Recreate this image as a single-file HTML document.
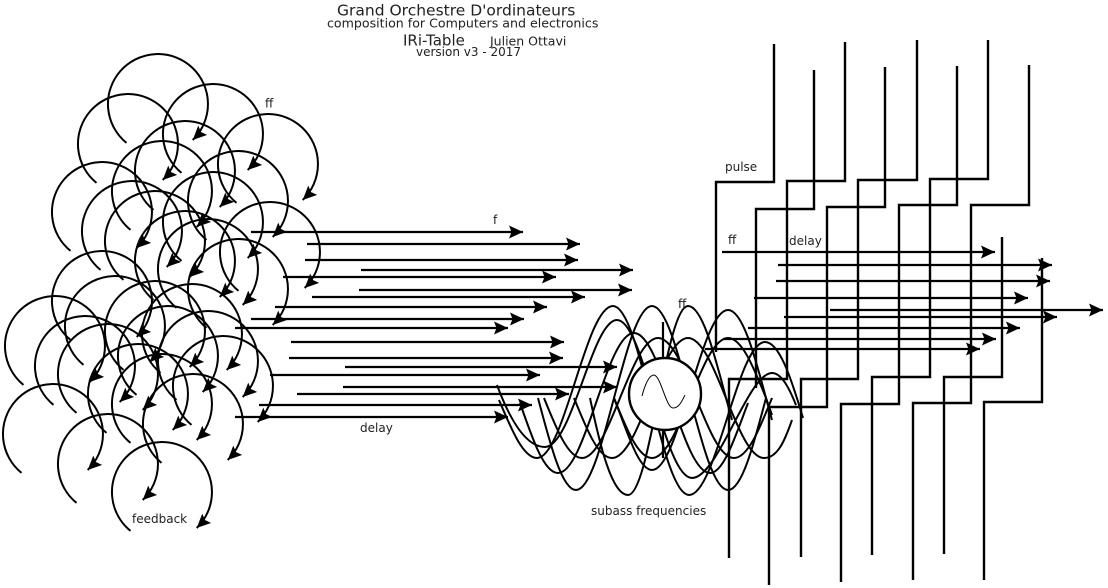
<!DOCTYPE html>
<html><head><meta charset="utf-8"><style>
html,body{margin:0;padding:0;background:#fff;}
svg{display:block;}
.a{fill:none;stroke:#000;stroke-width:2;marker-end:url(#ah);}
.h{stroke:#000;stroke-width:2.2;marker-end:url(#ah);}
.s{fill:none;stroke:#000;stroke-width:2.4;}
.w{fill:none;stroke:#000;stroke-width:2;}
text{font-family:"DejaVu Sans","Liberation Sans",sans-serif;fill:#222;}
</style></head><body>
<svg width="1108" height="588" viewBox="0 0 1108 588" xmlns="http://www.w3.org/2000/svg">
<defs>
<marker id="ah" markerUnits="userSpaceOnUse" markerWidth="16" markerHeight="14" refX="14" refY="6.5" orient="auto">
<path d="M0,0 L14,6.5 L0,13 L2.5,6.5 z" fill="#000"/>
</marker>
</defs>
<rect width="1108" height="588" fill="#fff"/>

<!-- title -->
<text x="337" y="15.5" font-size="15.5">Grand Orchestre D'ordinateurs</text>
<text x="327" y="27.5" font-size="12.6">composition for Computers and electronics</text>
<text x="403" y="45.5" font-size="15">IRi-Table</text>
<text x="490" y="45.5" font-size="12.5">Julien Ottavi</text>
<text x="416" y="56" font-size="12">version v3 - 2017</text>

<!-- feedback arcs -->
<path class="a" d="M126.5,142.9 A50,50 0 1 1 192.7,140"/>
<path class="a" d="M96.5,182.9 A50,50 0 1 1 162.7,180"/>
<path class="a" d="M181.5,172.9 A50,50 0 1 1 247.7,170"/>
<path class="a" d="M236.5,202.9 A50,50 0 1 1 302.7,200"/>
<path class="a" d="M153.5,209.9 A50,50 0 1 1 219.7,207"/>
<path class="a" d="M130.5,229.9 A50,50 0 1 1 196.7,227"/>
<path class="a" d="M70.5,250.9 A50,50 0 1 1 136.7,248"/>
<path class="a" d="M206.5,239.9 A50,50 0 1 1 272.7,237"/>
<path class="a" d="M100.5,269.9 A50,50 0 1 1 166.7,267"/>
<path class="a" d="M181.5,260.9 A50,50 0 1 1 247.7,258"/>
<path class="a" d="M123.5,279.9 A50,50 0 1 1 189.7,277"/>
<path class="a" d="M238.5,290.9 A50,50 0 1 1 304.7,288"/>
<path class="a" d="M153.5,299.9 A50,50 0 1 1 219.7,297"/>
<path class="a" d="M176.5,307.9 A50,50 0 1 1 242.7,305"/>
<path class="a" d="M206.5,327.9 A50,50 0 1 1 272.7,325"/>
<path class="a" d="M70.5,339.9 A50,50 0 1 1 136.7,337"/>
<path class="a" d="M83.5,364.9 A50,50 0 1 1 149.7,362"/>
<path class="a" d="M123.5,369.9 A50,50 0 1 1 189.7,367"/>
<path class="a" d="M160.5,372.9 A50,50 0 1 1 226.7,370"/>
<path class="a" d="M23.5,384.9 A50,50 0 1 1 89.7,382"/>
<path class="a" d="M53.5,404.9 A50,50 0 1 1 119.7,402"/>
<path class="a" d="M136.5,394.9 A50,50 0 1 1 202.7,392"/>
<path class="a" d="M176.5,399.9 A50,50 0 1 1 242.7,397"/>
<path class="a" d="M76.5,412.9 A50,50 0 1 1 142.7,410"/>
<path class="a" d="M191.5,424.9 A50,50 0 1 1 257.7,422"/>
<path class="a" d="M106.5,432.9 A50,50 0 1 1 172.7,430"/>
<path class="a" d="M130.5,442.9 A50,50 0 1 1 196.7,440"/>
<path class="a" d="M161.5,462.9 A50,50 0 1 1 227.7,460"/>
<path class="a" d="M21.5,472.9 A50,50 0 1 1 87.7,470"/>
<path class="a" d="M76.5,502.9 A50,50 0 1 1 142.7,500"/>
<path class="a" d="M130.5,530.9 A50,50 0 1 1 196.7,528"/>

<text x="265" y="107.5" font-size="12">ff</text>
<text x="132" y="523" font-size="12">feedback</text>

<!-- middle delay arrows -->
<line class="h" x1="251" y1="232" x2="523" y2="232"/>
<line class="h" x1="307" y1="244" x2="580" y2="244"/>
<line class="h" x1="305" y1="260" x2="578" y2="260"/>
<line class="h" x1="361" y1="270" x2="633" y2="270"/>
<line class="h" x1="283" y1="277" x2="556" y2="277"/>
<line class="h" x1="359" y1="290" x2="632" y2="290"/>
<line class="h" x1="312" y1="297" x2="585" y2="297"/>
<line class="h" x1="275" y1="307" x2="547" y2="307"/>
<line class="h" x1="251" y1="319" x2="524" y2="319"/>
<line class="h" x1="235" y1="328" x2="508" y2="328"/>
<line class="h" x1="291" y1="342" x2="564" y2="342"/>
<line class="h" x1="289" y1="358" x2="563" y2="358"/>
<line class="h" x1="345" y1="367" x2="617" y2="367"/>
<line class="h" x1="270" y1="375" x2="540" y2="375"/>
<line class="h" x1="343" y1="387" x2="617" y2="387"/>
<line class="h" x1="297" y1="394" x2="569" y2="394"/>
<line class="h" x1="259" y1="405" x2="532" y2="405"/>
<line class="h" x1="235" y1="417" x2="508" y2="417"/>

<text x="493" y="224" font-size="12">f</text>
<text x="360" y="432" font-size="12">delay</text>

<!-- waves -->
<path class="w" d="M499,400 C511.7,430 523.2,458 537,458 C564.4,458 585.6,306 613,306 C640.4,306 661.6,495 689,495 C716.4,495 737.6,342 765,342 C778.8,342 790.3,375 803,418"/>
<path class="w" d="M538,398 C550.7,446.3 562.2,490 576,490 C603.4,490 624.6,306 652,306 S700.6,490 728,490 C741.8,490 753.3,446.3 766,398"/>
<path class="w" d="M590,398 C600,446 612,495 628,495 C650,495 666,306 688,306 C701.8,306 713.3,349.7 726,398 L732,420"/>
<path class="w" d="M614,398 C626.7,430 638.2,470 652,470 C679.4,470 700.6,310 728,310 C741.8,310 753.3,350 766,398 L772,420"/>
<path class="w" d="M497,385 C510,420 526,447 545,447 C572,447 592,320 617,320 C644,320 664,478 692,478 C718,478 748,373 772,373 C782,373 790,390 796,405"/>
<path class="w" d="M544,398 C556.7,429.5 568.2,458 582,458 C609.4,458 630.6,338 658,338 S706.6,458 734,458 C747.8,458 759.3,429.5 772,398"/>
<path class="w" d="M574,398 C586.7,429.5 598.2,458 612,458 C639.4,458 660.6,338 688,338 S736.6,458 764,458 C777.8,458 785,440 792,420"/>
<path class="w" d="M614,398 C626.7,429.5 638.2,458 652,458 C679.4,458 700.6,338 728,338 C741.8,338 753.3,366.5 766,398 L772,415"/>
<path class="w" d="M520,403 C532.7,439.75 544.2,473 558,473 C585.4,473 606.6,333 634,333 S682.6,473 710,473 C723.8,473 735.3,436.25 748,403"/>

<!-- oscillator -->
<line x1="663" y1="322" x2="663" y2="458" stroke="#000" stroke-width="2.2"/>
<circle cx="665" cy="394" r="36" fill="#fff" stroke="#000" stroke-width="2.4"/>
<path d="M642,396 C646,381 650,375 654,375 C661,376 666,408 673,408 C679,408 682,401 685,395" fill="none" stroke="#000" stroke-width="1"/>
<text x="678" y="308" font-size="12">ff</text>
<text x="591" y="515" font-size="12">subass frequencies</text>

<!-- pulse step lines -->
<path class="s" d="M774,44 V182 H716 V352"/>
<path class="s" d="M814,70 V209 H756 V388"/>
<path class="s" d="M845,42 V181 H787 V379 H729 V558"/>
<path class="s" d="M885,67 V207 H827 V407 H769 V585"/>
<path class="s" d="M917,40 V180 H858 V379 H801 V557"/>
<path class="s" d="M957,66 V205 H899 V404 H841 V582"/>
<path class="s" d="M988,40 V179 H930 V377 H872 V555"/>
<path class="s" d="M1029,65 V205 H971 V403 H913 V580"/>
<path class="s" d="M944,554 V377 H1002 V237"/>
<path class="s" d="M984,580 V402 H1042 V258"/>

<!-- right arrows -->
<line class="h" x1="722" y1="252" x2="995" y2="252"/>
<line class="h" x1="778" y1="265" x2="1052" y2="265"/>
<line class="h" x1="776" y1="281" x2="1050" y2="281"/>
<line class="h" x1="754" y1="298" x2="1028" y2="298"/>
<line class="h" x1="830" y1="310" x2="1103" y2="310"/>
<line class="h" x1="784" y1="317" x2="1057" y2="317"/>
<line class="h" x1="748" y1="328" x2="1020" y2="328"/>
<line class="h" x1="723" y1="339" x2="996" y2="339"/>
<line class="h" x1="705" y1="349" x2="980" y2="349"/>

<text x="725" y="171" font-size="12">pulse</text>
<text x="728" y="244" font-size="12">ff</text>
<text x="789" y="245" font-size="12">delay</text>
</svg>
</body></html>
